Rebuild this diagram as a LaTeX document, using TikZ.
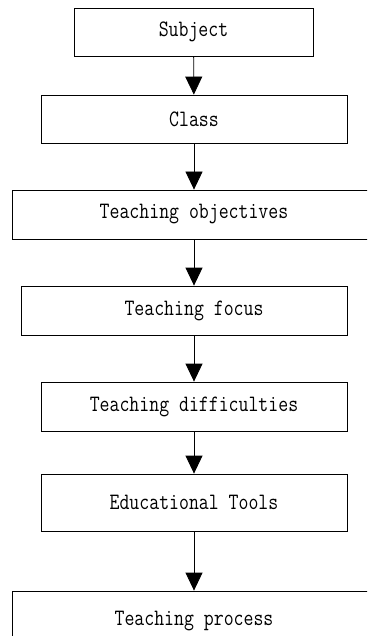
\documentclass[tikz,border=0pt]{standalone}
\usepackage{fontspec}
\newfontfamily\stagefont[FakeStretch=0.82]{Latin Modern Mono}
\usetikzlibrary{arrows.meta}

\begin{document}
\begin{tikzpicture}[x=1pt, y=-1pt,
    stage/.style={draw, line width=0.8pt, inner sep=0pt,
                  font=\stagefont\fontsize{23.5}{28}\selectfont},
    link/.style={-{Triangle[width=17pt, length=18pt]}, line width=0.8pt}]
    \useasboundingbox (0, 0) rectangle (367, 636);
    \clip (0, 0) rectangle (367, 636);

    \node [stage, minimum width=239, minimum height=48] (subject) at (193.5, 32) {Subject};
    \node [stage, minimum width=306, minimum height=48] (class) at (194, 119) {Class};
    \node [stage, minimum width=364, minimum height=49] (objectives) at (194, 214.5) {Teaching objectives};
    \node [stage, minimum width=326, minimum height=49] (focus) at (184, 310.5) {\hspace{20pt}Teaching focus};
    \node [stage, minimum width=306, minimum height=49] (difficulties) at (194, 406.5) {Teaching difficulties};
    \node [stage, minimum width=306, minimum height=57] (tools) at (194, 502.5) {Educational Tools};
    \node [stage, minimum width=364, minimum height=60] (process) at (194, 621) {Teaching process};

    % arrows down the chain
    \draw [link] (subject) -- (class);
    \draw [link] (class) -- (objectives);
    \draw [link] (objectives.south) -- (objectives.south |- focus.north);
    \draw [link] (objectives.south |- focus.south) -- (difficulties.north);
    \draw [link] (difficulties) -- (tools);
    \draw [link] (tools) -- (process);
\end{tikzpicture}
\end{document}
